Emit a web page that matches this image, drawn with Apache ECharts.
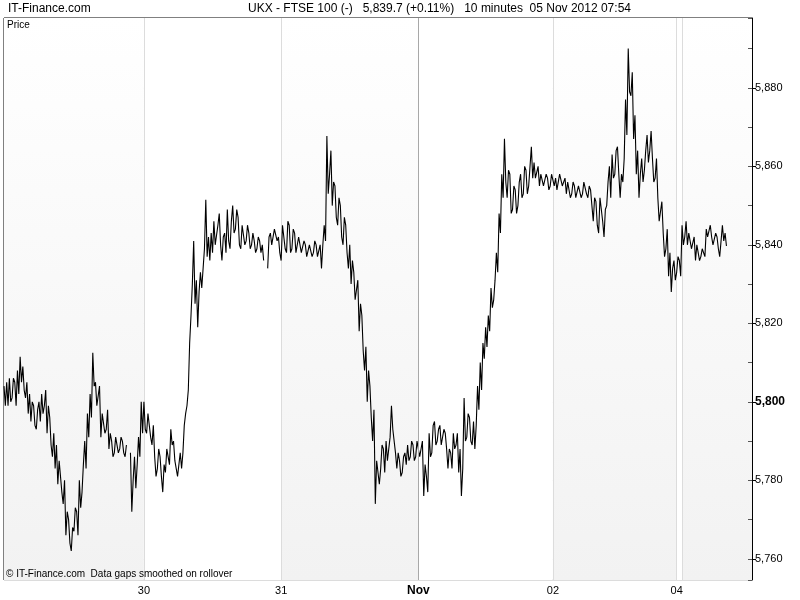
<!DOCTYPE html>
<html>
<head>
<meta charset="utf-8">
<script src="https://cdn.jsdelivr.net/npm/echarts@6/dist/echarts.min.js"></script>
<style>html,body{margin:0;padding:0;background:#fff}#c{width:800px;height:600px}</style>
</head>
<body>
<div id="c"></div>
<script>
// ---- data (each 10-minute bar: two readings, first and second swing inside the bar) ----
const barCount = 279;
const dayStartBar = [52, 103, 154, 204, 250, 252];
const dayLabels = ['30', '31', 'Nov', '02', '04', ''];
const yTickLabels = ['5,760', '5,780', '5,800', '5,820', '5,840', '5,860', '5,880'];
const lastPrice = 5839.7;
const titleLeft = 'IT-Finance.com';
const titleMain = 'UKX - FTSE 100 (-)   5,839.7 (+0.11%)   10 minutes  05 Nov 2012 07:54';
const footerText = '\u00A9 IT-Finance.com  Data gaps smoothed on rollover';

const day29 = [[5804,5799],[5805,5799],[5806,5800],[5801,5806],[5805,5799],[5808,5802],[5811.5,5805],[5809,5803],[5801,5805],[5797,5802],
  [5795,5800],[5799,5794],[5793,5798],[5800,5795],[5802,5797],[5799,5803],[5792,5799],[5796,5789],[5786,5792],[5783,5789],
  [5779,5785],[5785,5777],[5774,5780],[5766,5772],[5770,5764],[5762,5768],[5767,5773],[5772,5766],[5780,5773],[5777,5784],
  [5790,5783],[5797,5791],[5802,5796],[5812.5,5804],[5805,5799],[5799,5804],[5791,5797],[5797,5792],[5793,5798],[5788,5792],
  [5790,5786],[5787,5791],[5791,5787],[5788,5791],[5790,5787],[5786,5789],[null,null],[5787,5772],[5780,5786],[5778,5784],
  [5791,5786],[5800,5792]];
const day30 = [[5800,5793],[5792,5797],[5797,5791],[5789,5794],[5786,5781],[5783,5788],[5786,5781],[5777,5784],[5782,5788],[5788,5784],
  [5793,5789],[5790,5785],[5785,5781],[5781,5787],[5783,5787],[5794,5797],[5799,5803],[5815,5822],[5830,5841],[5825,5831],
  [5819,5828],[5833,5829],[5834,5839],[5851.5,5837],[5842,5836],[5843,5838],[5846,5840],[5840,5845],[5848,5840],[5836,5842],
  [5843,5838],[5849,5841],[5839,5846],[5850,5843],[5844,5849],[5847,5840],[5839,5845],[5845,5840],[5841,5845],[5843,5839],
  [5840,5843],[5841,5838],[5839,5842],[5841,5838],[5840,5836],[null,null],[5834,5842],[5843,5840],[5840,5844],[5844,5841],
  [5842,5838]];
const day31 = [[5836,5845],[5845,5839],[5838,5846],[5845,5838],[5839,5844],[5843,5838],[5838,5842],[5842,5838],[5838,5841],[5840,5837],
  [5837,5840],[5840,5837],[5838,5841],[5840,5837],[5837,5840],[5834,5840],[5845,5841],[5867.7,5853],[5858,5864],[5850,5856],
  [5855,5847],[5845,5852],[5850,5842],[5840,5847],[5845,5838],[5834,5840],[5830,5836],[5833,5826],[5826,5831],[5818,5825],
  [5822,5813],[5808,5814],[5800,5808],[5804,5796],[5790,5798],[5774,5785],[5785,5779],[5783,5789],[5788,5782],[5790,5785],
  [5785,5791],[5799,5793],[5793,5787],[5783,5787],[5785,5781],[5782,5786],[5787,5784],[5789,5785],[5786,5790],[5789,5785],
  [5786,5790]];
const dayNov1 = [[5790,5786],[5786,5790],[5776,5784],[5781,5777],[5792,5786],[5787,5794],[5795,5789],[5790,5793],[5794,5789],[5789,5793],
  [5792,5788],[5783,5788],[5787,5783],[5792,5788],[5789,5792],[5782,5788],[5776,5783],[5801,5790],[5791,5797],[5796,5790],
  [5789,5795],[5788,5794],[5804,5798],[5810,5803],[5815,5811],[5819,5814],[5822,5818],[5829,5824],[5826,5831],[5838,5833],
  [5848,5843],[5858,5852],[5867,5856],[5852,5859],[5858,5848],[5849,5855],[5854,5848],[5850,5856],[5858,5852],[5853,5860],
  [5859,5853],[5855,5860],[5865,5857],[5861,5857],[5857,5860],[5855,5858],[5858,5855],[5855,5858],[5857,5854],[5855,5858],
  [5858,5855]];
const dayNov2 = [[5857,5854],[5854,5858],[5858,5855],[5855,5857],[5853,5856],[5856,5852],[5853,5856],[5855,5852],[5852,5855],[5855,5852],
  [5853,5856],[5856,5853],[5852,5855],[5854,5850],[5846,5852],[5851,5845],[5843,5852],[5852,5846],[5842,5849],[5850,5856],
  [5860,5852],[5863,5857],[5858,5864],[5865,5858],[5852,5858],[5856,5862],[5877,5868],[5890,5879],[5878,5884],[5867,5873],
  [5858,5864],[5852,5858],[5862,5856],[5859,5864],[5868,5861],[5864,5869],[5862,5856],[5857,5862],[5852,5846],[5846,5851],
  [5843,5837],[5839,5844],[5832,5838],[5828,5834],[5836,5831],[5833,5837]];
const dayNov5 = [[5836,5832],[5845,5840],[5842,5846],[5840,5843],[5843,5839],[5839,5842],[5836,5840],[5838,5836],[5837,5839],[5839,5837],
  [5844,5842],[5842,5845],[5842,5840],[5840,5843],[5842,5839],[5837,5841],[5845,5841],[5843,5839.7]];

// ---- build ----
const bars = [].concat(day29, day30, day31, dayNov1, dayNov2, dayNov5);
const prices = [];
bars.forEach(b => { prices.push(b[0], b[1]); });
const slotCount = (barCount - 1) * 2 + 1;
const categories = Array.from({length: slotCount}, (_, i) => String(i / 2));
const labelAt = {};
dayStartBar.forEach((d, k) => { labelAt[d * 2] = dayLabels[k]; });
const isBoundary = i => i % 2 === 0 && dayStartBar.indexOf(i / 2) >= 0;
const areaBoundary = i => i === 0 || i === slotCount - 1 || isBoundary(i);
const fmtNum = v => {
  const s = (Math.round(v * 10) / 10).toFixed(Math.round(v * 10) % 10 ? 1 : 0);
  const p = s.split('.');
  p[0] = p[0].replace(/\B(?=(\d{3})+(?!\d))/g, ',');
  return p.join('.');
};
const SANS = "'Liberation Sans',Arial,sans-serif";
const grey = {type: 'linear', x: 0, y: 0, x2: 0, y2: 1,
  colorStops: [{offset: 0, color: '#ffffff'}, {offset: 1, color: '#f2f2f2'}]};

const chart = echarts.init(document.getElementById('c'), null, {renderer: 'canvas'});
chart.setOption({
  animation: false,
  backgroundColor: '#ffffff',
  title: [
    {text: titleLeft, left: 8, top: 3, padding: 0,
      textStyle: {fontFamily: SANS, fontSize: 12, fontWeight: 'normal', color: '#000'}},
    {text: titleMain, left: 248, top: 3, padding: 0,
      textStyle: {fontFamily: SANS, fontSize: 12, fontWeight: 'normal', color: '#000'}},
    {text: 'Price', left: 7, top: 20, padding: 0,
      textStyle: {fontFamily: SANS, fontSize: 10, fontWeight: 'normal', color: '#000'}},
    {text: footerText, left: 6, top: 569, padding: 0,
      textStyle: {fontFamily: SANS, fontSize: 10, fontWeight: 'normal', color: '#000'}}
  ],
  grid: {left: 4, right: 48, top: 18, bottom: 20, show: true, borderColor: '#000', borderWidth: 1,
    backgroundColor: '#fff', containLabel: false},
  xAxis: {
    type: 'category', data: categories, boundaryGap: false,
    axisLine: {show: false}, axisTick: {show: false},
    axisLabel: {
      interval: (i) => isBoundary(i) && !!labelAt[i],
      formatter: (v, i) => labelAt[i] === 'Nov' ? '{b|Nov}' : (labelAt[i] || ''),
      fontFamily: SANS, fontSize: 11, color: '#000', margin: 5,
      rich: {b: {fontFamily: SANS, fontSize: 12, fontWeight: 'bold', color: '#000'}}
    },
    splitLine: {show: true, interval: (i) => isBoundary(i), lineStyle: {color: '#dcdcdc', width: 1}},
    splitArea: {show: true, interval: (i) => areaBoundary(i), areaStyle: {color: [grey, '#ffffff']}}
  },
  yAxis: [
    {
      type: 'value', position: 'right', min: 5754.6, max: 5897.8, splitNumber: 7, scale: true,
      axisLine: {show: true, lineStyle: {color: '#000'}},
      axisTick: {show: true, length: 4, lineStyle: {color: '#000'}},
      axisLabel: {
        showMinLabel: false, showMaxLabel: false, margin: 3,
        formatter: (v) => v === 5800 ? '{b|' + fmtNum(v) + '}' : (yTickLabels.indexOf(fmtNum(v)) >= 0 ? fmtNum(v) : ''),
        fontFamily: SANS, fontSize: 11, color: '#000',
        rich: {b: {fontFamily: SANS, fontSize: 12, fontWeight: 'bold', color: '#000'}}
      },
      splitLine: {show: true, lineStyle: {color: '#dcdcdc', width: 1}}
    },
    {
      type: 'value', position: 'right', min: 5754.6, max: 5897.8, splitNumber: 14, scale: true,
      axisLine: {show: false},
      axisTick: {show: true, inside: true, length: 4, lineStyle: {color: '#555'}},
      axisLabel: {show: false},
      splitLine: {show: false}
    }
  ],
  series: [{
    type: 'line', data: prices, yAxisIndex: 0, showSymbol: false, symbol: 'none',
    connectNulls: false, lineStyle: {color: '#000', width: 1.1}, silent: true,
    markLine: {
      symbol: 'none', silent: true, animation: false,
      data: [
        {xAxis: dayStartBar[2] * 2, lineStyle: {color: '#a8a8a8', width: 1, type: 'solid'}, label: {show: false}},
        {yAxis: lastPrice, lineStyle: {opacity: 0},
          label: {show: true, position: 'end', distance: 3, formatter: fmtNum(lastPrice),
            backgroundColor: '#ffff00', borderColor: '#9a9a9a', borderWidth: 1, padding: [2, 1, 1, 1],
            color: '#000', fontFamily: SANS, fontSize: 11}}
      ]
    }
  }]
});
</script>
</body>
</html>
